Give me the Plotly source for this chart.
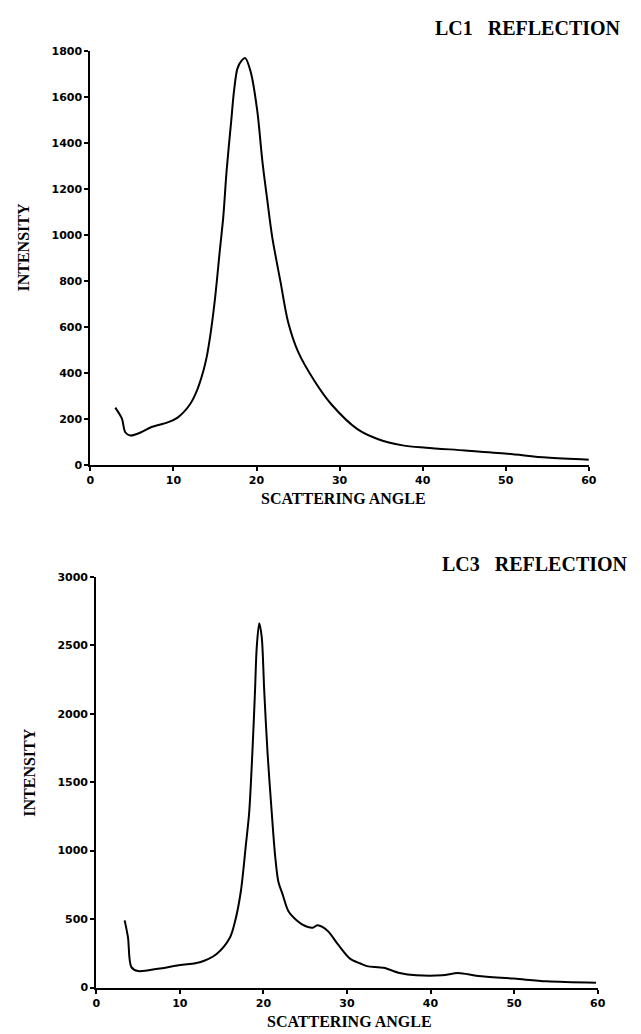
import plotly.graph_objects as go

# LC1 reflection (top panel)
lc1_angle = [3.0, 3.8, 4.2, 4.8, 6.1, 7.3, 9.3, 10.5, 12.0, 12.8, 13.6, 14.0, 14.5, 15.0, 15.6,
             16.0, 16.4, 16.95, 17.3, 17.7, 18.2, 18.65, 19.3, 20.1, 20.7, 21.3, 21.9, 22.9,
             23.8, 25.0, 27.0, 29.0, 32.1, 34.5, 37.6, 40.4, 45.1, 50.2, 54.9, 60.0]
lc1_intensity = [250, 202, 143, 129, 143, 165, 186, 207, 265, 322, 410, 470, 580, 723, 940,
                 1080, 1281, 1496, 1630, 1725, 1760, 1771, 1711, 1539, 1324, 1152, 990, 795,
                 623, 494, 365, 265, 158, 115, 86, 76, 64, 50, 33, 24]

# LC3 reflection (bottom panel)
lc3_angle = [3.4, 3.8, 4.2, 5.0, 7.4, 9.7, 12.4, 14.4, 16.0, 16.6, 17.3, 17.9, 18.3, 18.7,
             19.0, 19.2, 19.5, 19.8, 20.1, 20.5, 21.0, 21.4, 21.8, 22.3, 23.0, 24.0, 25.0,
             25.9, 26.5, 27.7, 28.9, 30.4, 31.6, 32.4, 34.4, 36.3, 38.3, 41.4, 43.3, 45.7,
             50.0, 53.9, 59.8]
lc3_intensity = [490, 365, 149, 120, 137, 161, 185, 245, 365, 480, 701, 1038, 1278, 1740,
                 2168, 2480, 2660, 2560, 2168, 1711, 1278, 966, 770, 680, 557, 490, 449,
                 437, 454, 413, 317, 209, 175, 156, 144, 106, 89, 89, 106, 84,
                 65, 45, 34]

x_ticks = [0, 10, 20, 30, 40, 50, 60]
lc1_yticks = [0, 200, 400, 600, 800, 1000, 1200, 1400, 1600, 1800]
lc3_yticks = [0, 500, 1000, 1500, 2000, 2500, 3000]

W, H = 641, 1034
serif = "Liberation Serif"
tickfont = dict(family="DejaVu Sans", size=11, color="black", weight="bold")

fig = go.Figure()
fig.add_trace(go.Scatter(x=lc1_angle, y=lc1_intensity, mode="lines", xaxis="x", yaxis="y",
                         line=dict(color="black", width=2, shape="spline", smoothing=0.85),
                         showlegend=False))
fig.add_trace(go.Scatter(x=lc3_angle, y=lc3_intensity, mode="lines", xaxis="x2", yaxis="y2",
                         line=dict(color="black", width=2, shape="spline", smoothing=0.85),
                         showlegend=False))

def ax(domain, rng, ticks, anchor):
    return dict(domain=domain, range=rng, tickvals=ticks, ticktext=[str(t) for t in ticks],
                showline=True, linecolor="black", linewidth=2, ticks="outside", ticklen=4,
                tickwidth=2, tickcolor="black", showgrid=False, zeroline=False,
                tickfont=tickfont, anchor=anchor, fixedrange=True)

fig.update_layout(
    width=W, height=H, margin=dict(l=0, r=0, t=0, b=0),
    paper_bgcolor="white", plot_bgcolor="white",
    xaxis=ax([88 / W, 596 / W], [0, 60], x_ticks, "y"),
    yaxis=ax([1 - 465 / H, 1 - 46 / H], [0, 1800], lc1_yticks, "x"),
    xaxis2=ax([94 / W, 605 / W], [0, 60], x_ticks, "y2"),
    yaxis2=ax([1 - 994 / H, 1 - 578 / H], [0, 3000], lc3_yticks, "x2"),
)

def txt(text, x, y, size, xanchor="center", angle=0):
    fig.add_annotation(text=text, x=x / W, y=1 - y / H, xref="paper", yref="paper",
                       xanchor=xanchor, yanchor="middle", showarrow=False, textangle=angle,
                       font=dict(family=serif, size=size, color="black", weight="bold"))

txt("LC1&nbsp;&nbsp;&nbsp;REFLECTION", 631, 22, 20, xanchor="right")
txt("SCATTERING ANGLE", 346, 499, 16)
txt("INTENSITY", 20, 245, 16, angle=-90)
txt("LC3&nbsp;&nbsp;&nbsp;REFLECTION", 638, 565, 20, xanchor="right")
txt("SCATTERING ANGLE", 352, 1028, 16)
txt("INTENSITY", 26, 777, 16, angle=-90)

fig.write_html("out.html")
